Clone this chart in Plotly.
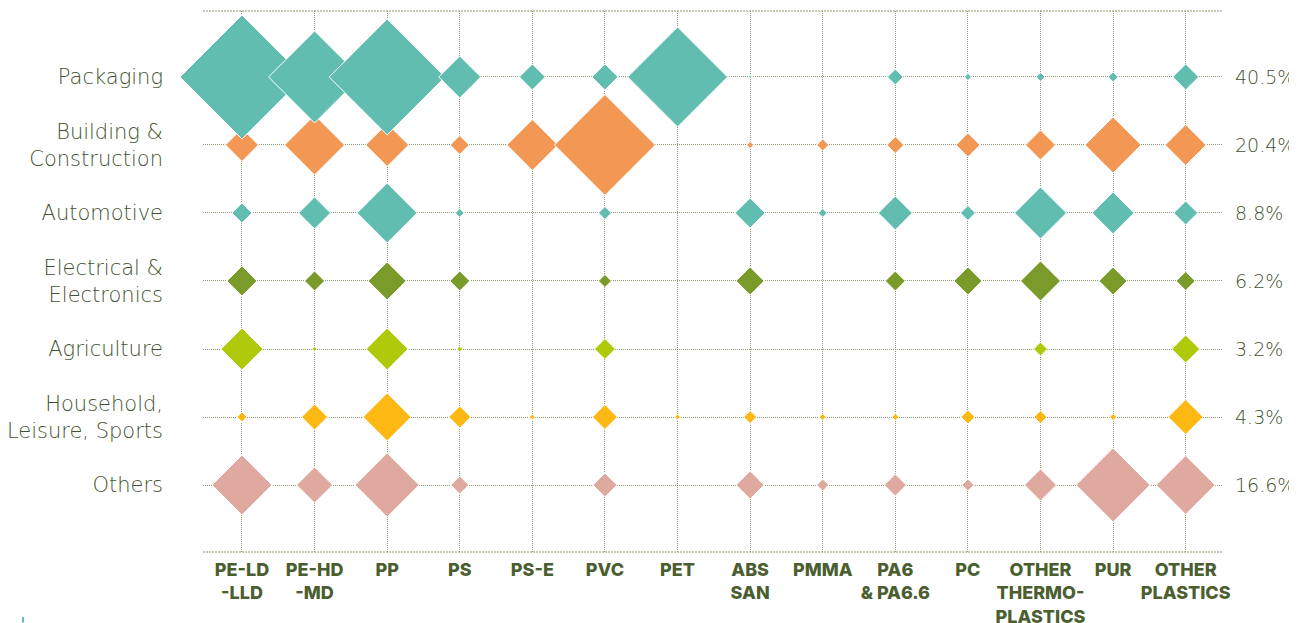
import plotly.graph_objects as go

# Categories
polymers = ["PE-LD<br>-LLD", "PE-HD<br>-MD", "PP", "PS", "PS-E", "PVC", "PET",
            "ABS<br>SAN", "PMMA", "PA6<br>& PA6.6", "PC",
            "OTHER<br>THERMO-<br>PLASTICS", "PUR", "OTHER<br>PLASTICS"]
segments = ["Packaging", "Building &<br>Construction", "Automotive",
            "Electrical &<br>Electronics", "Agriculture",
            "Household,<br>Leisure, Sports", "Others"]
shares = ["40.5%", "20.4%", "8.8%", "6.2%", "3.2%", "4.3%", "16.6%"]

# Demand per segment and polymer (kt)
packaging = [6150, 3390, 5380, 705, 270, 270, 4000, 4, 0, 100, 20, 32, 40, 270]
building = [435, 1440, 740, 145, 1040, 4080, 0, 20, 58, 115, 230, 360, 1255, 670]
automotive = [160, 410, 1440, 32, 0, 68, 0, 360, 32, 460, 90, 1080, 705, 230]
electrical = [360, 160, 580, 160, 0, 68, 0, 315, 0, 160, 315, 640, 315, 145]
agriculture = [705, 10, 705, 14, 0, 175, 0, 0, 0, 0, 0, 78, 0, 315]
household = [40, 270, 920, 195, 14, 250, 14, 68, 20, 20, 78, 68, 20, 490]
others = [1440, 520, 1640, 130, 0, 230, 0, 315, 58, 195, 58, 410, 2190, 1390]

series = [packaging, building, automotive, electrical, agriculture, household, others]
colors = ["#60BDB0", "#F29754", "#60BDB0", "#7A9A2A", "#AFCA0B", "#FDB813", "#DFA9A0"]

TEXT = "#3F5230"
XTEXT = "#4B5E30"
GRID = "#8E9B76"
LABEL_FONT = "DejaVu Sans"

fig = go.Figure()
xs = list(range(len(polymers)))
# draw bottom rows first so Packaging sits on top
for i in reversed(range(len(segments))):
    vals = series[i]
    px = [x for x, v in zip(xs, vals) if v > 0]
    pv = [v for v in vals if v > 0]
    fig.add_trace(go.Scatter(
        x=px, y=[i] * len(px), mode="markers", cliponaxis=False,
        marker=dict(symbol="diamond", size=pv, sizemode="area", sizeref=1.352,
                    color=colors[i], line=dict(color="white", width=1), opacity=1),
        hoverinfo="skip", showlegend=False,
    ))

# invisible trace to activate the right axis
fig.add_trace(go.Scatter(x=[0], y=[0], yaxis="y2", mode="markers",
                         marker=dict(opacity=0), hoverinfo="skip", showlegend=False))

yrange = [6.985, -0.97]
fig.update_layout(
    width=1289, height=615,
    margin=dict(l=195, r=75, t=3, b=71, autoexpand=False),
    paper_bgcolor="white", plot_bgcolor="white",
    xaxis=dict(range=[-0.537, 13.5], tickvals=xs, ticktext=polymers,
               showgrid=True, gridcolor=GRID, griddash="1px,1px", gridwidth=1,
               zeroline=False, showline=False, ticks="", side="bottom",
               ticklabelstandoff=5,
               tickfont=dict(family="Inter", size=18, color=XTEXT, weight=800)),
    yaxis=dict(range=yrange, tickvals=list(range(7)), ticktext=segments,
               showgrid=True, gridcolor=GRID, griddash="1px,1px", gridwidth=1,
               zeroline=False, showline=False, ticks="", ticklabelstandoff=39,
               tickfont=dict(family=LABEL_FONT, size=21, color=TEXT, weight=200)),
    yaxis2=dict(range=yrange, tickvals=list(range(7)), ticktext=shares,
                overlaying="y", side="right", showgrid=False, zeroline=False,
                showline=False, ticks="", ticklabelstandoff=12,
                tickfont=dict(family=LABEL_FONT, size=19, color=TEXT, weight=200)),
    shapes=[
        dict(type="line", xref="paper", yref="paper", x0=0, x1=1, y0=1, y1=1,
             line=dict(color="#C5C9B5", width=2, dash="2px,1px"), layer="below"),
        dict(type="line", xref="paper", yref="paper", x0=0, x1=1, y0=0, y1=0,
             line=dict(color="#C5C9B5", width=2, dash="2px,1px"), layer="below"),
        dict(type="rect", xref="paper", yref="paper", x0=-0.1776, x1=-0.1757,
             y0=-0.131, y1=-0.12, line=dict(width=0), fillcolor="#60BDB0"),
    ],
)

fig.write_html("out.html")
